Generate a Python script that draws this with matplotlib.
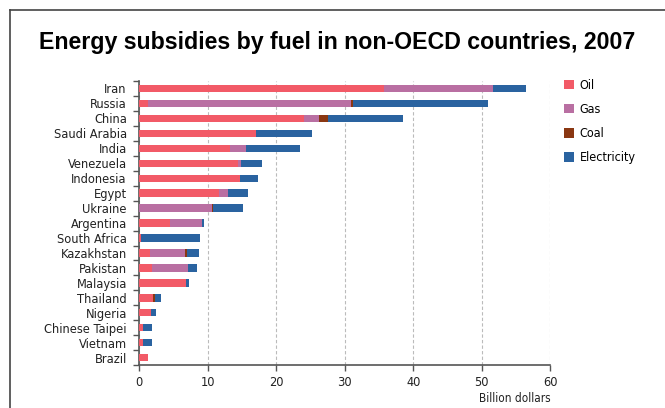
import matplotlib.pyplot as plt
import numpy as np
from matplotlib.lines import Line2D

# countries, top to bottom
countries = ['Iran', 'Russia', 'China', 'Saudi Arabia', 'India', 'Venezuela',
             'Indonesia', 'Egypt', 'Ukraine', 'Argentina', 'South Africa',
             'Kazakhstan', 'Pakistan', 'Malaysia', 'Thailand', 'Nigeria',
             'Chinese Taipei', 'Vietnam', 'Brazil']

# billion dollars per fuel
oil = [35.7, 1.2, 24.0, 17.0, 13.2, 14.4, 14.7, 11.6, 0.0, 4.5, 0.3,
       1.5, 1.9, 6.8, 2.0, 1.75, 0.6, 0.5, 1.2]
gas = [16.0, 29.7, 2.2, 0.0, 2.4, 0.4, 0.0, 1.3, 10.6, 4.7, 0.0,
       5.2, 5.2, 0.0, 0.0, 0.0, 0.0, 0.0, 0.0]
coal = [0.0, 0.3, 1.3, 0.0, 0.0, 0.0, 0.0, 0.0, 0.2, 0.0, 0.0,
        0.3, 0.0, 0.0, 0.3, 0.0, 0.0, 0.0, 0.0]
electricity = [4.7, 19.7, 11.0, 8.2, 7.8, 3.1, 2.6, 2.9, 4.4, 0.2, 8.6,
               1.7, 1.3, 0.5, 0.8, 0.75, 1.2, 1.3, 0.0]

fuels = ['Oil', 'Gas', 'Coal', 'Electricity']
colors = ['#f25a67', '#b96fa2', '#8a3712', '#2a63a0']

plt.rcParams['font.family'] = ['DejaVu Sans']
plt.rcParams['font.stretch'] = 'condensed'

fig = plt.figure(figsize=(6.65, 4.08), dpi=100)
ax = fig.add_axes([0.2095, 0.1046, 0.618, 0.6975])

y = np.arange(len(countries))
left = np.zeros(len(countries))
for vals, name, c in zip([oil, gas, coal, electricity], fuels, colors):
    vals = np.array(vals)
    ax.barh(y, vals, left=left, height=0.48, color=c, label=name, zorder=3)
    left = left + vals

ax.set_ylim(len(countries) - 0.5, -0.5)
ax.set_xlim(0, 60)
ax.set_xticks([0, 10, 20, 30, 40, 50, 60])
ax.set_yticks(y)
ax.set_yticklabels(countries)
ax.set_yticks(np.arange(-0.5, len(countries), 1), minor=True)
ax.tick_params(axis='y', which='major', length=0, pad=9, labelsize=9.2, labelcolor='#222222')
ax.tick_params(axis='y', which='minor', length=4, width=1, color='#555555')
ax.tick_params(axis='x', length=4, width=1, color='#555555', labelsize=9.2, labelcolor='#222222')
ax.grid(axis='x', linestyle=(0, (3, 2)), color='#bbbbbb', linewidth=0.8, zorder=0)
for s in ['top', 'right']:
    ax.spines[s].set_visible(False)
for s in ['left', 'bottom']:
    ax.spines[s].set_color('#555555')
    ax.spines[s].set_linewidth(1.2)

ax.text(1.0, -0.118, 'Billion dollars', transform=ax.transAxes, ha='right', va='center',
        fontsize=8.5, color='#222222')

ax.legend(loc='upper left', bbox_to_anchor=(1.02, 1.025), frameon=False, fontsize=9,
          handlelength=0.8, handleheight=0.8, labelspacing=0.9, handletextpad=0.5,
          borderaxespad=0.0)

fig.text(0.5075, 0.895, 'Energy subsidies by fuel in non-OECD countries, 2007',
         ha='center', va='center', fontsize=16.7, fontweight='bold', fontstretch='normal',
         family=['Liberation Sans', 'DejaVu Sans'])

# open frame line on the left and top
fig.add_artist(Line2D([0.015, 0.015], [0.0, 0.9755], color='#444444', lw=1.2))
fig.add_artist(Line2D([0.015, 1.0], [0.9755, 0.9755], color='#444444', lw=1.2))

fig.savefig('out.png', dpi=100)
